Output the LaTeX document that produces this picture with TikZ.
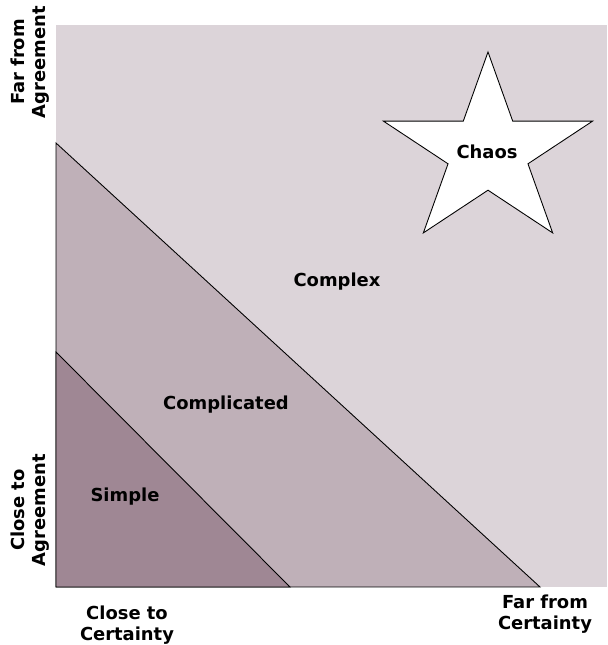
\documentclass[tikz,border=0pt]{standalone}
\usepackage{fontspec}
\setmainfont{DejaVu Sans}
\usepackage{tikz}

\definecolor{zonelight}{HTML}{DCD4D9}
\definecolor{zonemid}{HTML}{BFB0B8}
\definecolor{zonedark}{HTML}{9F8794}

\begin{document}
\begin{tikzpicture}[every node/.style={font=\bfseries\fontsize{10.2}{12}\selectfont,
  align=center, inner sep=0pt}, zone/.style={draw=black, line width=0.5pt}]
  \useasboundingbox (0,0) rectangle (12.14,12.9);
  % the three zones
  \fill[zonelight] (1.12,1.16) rectangle (12.14,12.4);
  \filldraw[zone, fill=zonemid] (1.12,10.04) -- (10.8,1.16) -- (1.12,1.16) -- cycle;
  \filldraw[zone, fill=zonedark] (1.12,5.86) -- (5.8,1.16) -- (1.12,1.16) -- cycle;
  % star for chaos
  \begin{scope}[shift={(9.76,9.86)}]
    \foreach \k in {0,...,9} {
      \pgfmathsetmacro{\rad}{mod(\k,2)==0 ? 2 : 0.764}
      \coordinate (s\k) at ({1.1*\rad*cos(90+36*\k)}, {\rad*sin(90+36*\k)});
    }
  \end{scope}
  \filldraw[zone, fill=white] (s0) -- (s1) -- (s2) -- (s3) -- (s4) -- (s5)
    -- (s6) -- (s7) -- (s8) -- (s9) -- cycle;
  \node (chaos) at (9.74,9.86) {Chaos};
  \node (complex) at (6.74,7.26) {Complex};
  \node (complicated) at (4.52,4.8) {Complicated};
  \node (simple) at (2.5,2.96) {Simple};
  % axis labels
  \node (closecert) at (2.54,0.4) {Close to\\Certainty};
  \node (farcert) at (10.9,0.62) {Far from\\Certainty};
  \node[rotate=90] (faragree) at (0.6,11.66) {Far from\\Agreement};
  \node[rotate=90] (closeagree) at (0.6,2.7) {Close to\\Agreement};
\end{tikzpicture}
\end{document}
